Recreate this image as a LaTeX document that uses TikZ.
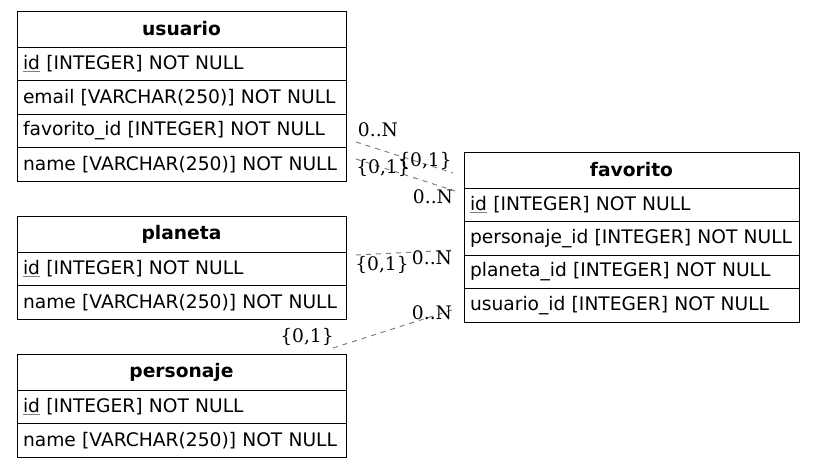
\documentclass[tikz,border=0pt]{standalone}
\usepackage{fontspec}
\setmainfont{DejaVu Sans}
\newfontfamily\cardfont{DejaVu Serif}
\usepackage{xcolor}
\usepackage{tikz}
\usetikzlibrary{positioning}
\newcommand{\pkey}[1]{\textcolor{gray}{\underline{\textcolor{black}{#1}}}}
\tikzstyle{tblhead}=[draw, line width=0.75pt, outer sep=0pt, inner sep=0pt, minimum height=27pt, font=\fontsize{14}{16}\selectfont\bfseries]
\tikzstyle{tblrow}=[draw, line width=0.75pt, outer sep=0pt, inner xsep=4.5pt, inner ysep=0pt, minimum height=25.2pt, align=left, font=\fontsize{14}{16}\selectfont]
\tikzstyle{rel}=[gray, line width=0.75pt, dash pattern=on 3.75pt off 3.75pt]
\tikzstyle{card}=[inner sep=0pt, font=\cardfont\fontsize{14}{16}\selectfont]
\tikzset{
    narrow/.style={text width=237.75pt},
    wide/.style={text width=242.25pt}
}

\begin{document}
\begin{tikzpicture}[x=0.75pt, y=-0.75pt]
  \useasboundingbox (0,0) rectangle (815,469);

  % usuario
  \node[tblhead, minimum width=246.75pt, anchor=north west] (usuario) at (17,11) {usuario};
  \node[tblrow, narrow, below=0pt of usuario] (usuario_id) {\pkey{id} [INTEGER] NOT NULL};
  \node[tblrow, narrow, below=0pt of usuario_id] (usuario_email) {email [VARCHAR(250)] NOT NULL};
  \node[tblrow, narrow, below=0pt of usuario_email] (usuario_fav) {favorito\_id [INTEGER] NOT NULL};
  \node[tblrow, narrow, below=0pt of usuario_fav] (usuario_name) {name [VARCHAR(250)] NOT NULL};

  % planeta
  \node[tblhead, minimum width=246.75pt, anchor=north west] (planeta) at (17,216) {planeta};
  \node[tblrow, narrow, below=0pt of planeta] (planeta_id) {\pkey{id} [INTEGER] NOT NULL};
  \node[tblrow, narrow, below=0pt of planeta_id] (planeta_name) {name [VARCHAR(250)] NOT NULL};

  % personaje
  \node[tblhead, minimum width=246.75pt, anchor=north west] (personaje) at (17,354) {personaje};
  \node[tblrow, narrow, below=0pt of personaje] (personaje_id) {\pkey{id} [INTEGER] NOT NULL};
  \node[tblrow, narrow, below=0pt of personaje_id] (personaje_name) {name [VARCHAR(250)] NOT NULL};

  % favorito
  \node[tblhead, minimum width=251.25pt, anchor=north west] (favorito) at (464,152) {favorito};
  \node[tblrow, wide, below=0pt of favorito] (favorito_id) {\pkey{id} [INTEGER] NOT NULL};
  \node[tblrow, wide, below=0pt of favorito_id] (favorito_per) {personaje\_id [INTEGER] NOT NULL};
  \node[tblrow, wide, below=0pt of favorito_per] (favorito_pla) {planeta\_id [INTEGER] NOT NULL};
  \node[tblrow, wide, below=0pt of favorito_pla] (favorito_usr) {usuario\_id [INTEGER] NOT NULL};

  % edge ends
  \coordinate (usr_a) at (356,142);
  \coordinate (fav_a) at (453,173);
  \coordinate (usr_b) at (356,159);
  \coordinate (fav_b) at (455,191);
  \coordinate (pla_c) at (356,255);
  \coordinate (fav_c) at (455,250);
  \coordinate (per_d) at (333,348);
  \coordinate (fav_d) at (455,309);

  \draw[rel] (usr_a) -- (fav_a);
  \draw[rel] (usr_b) -- (fav_b);
  \draw[rel] (pla_c) -- (fav_c);
  \draw[rel] (per_d) -- (fav_d);

  % cardinalities
  \node[card] (c_usr_a) at (378,130) {0..N};
  \node[card] (c_fav_a) at (425,161) {\{0,1\}};
  \node[card] (c_usr_b) at (383,168) {\{0,1\}};
  \node[card] (c_fav_b) at (433,197) {0..N};
  \node[card] (c_pla_c) at (382,265) {\{0,1\}};
  \node[card] (c_fav_c) at (432,258) {0..N};
  \node[card] (c_per_d) at (307,337) {\{0,1\}};
  \node[card] (c_fav_d) at (432,313) {0..N};
\end{tikzpicture}
\end{document}
